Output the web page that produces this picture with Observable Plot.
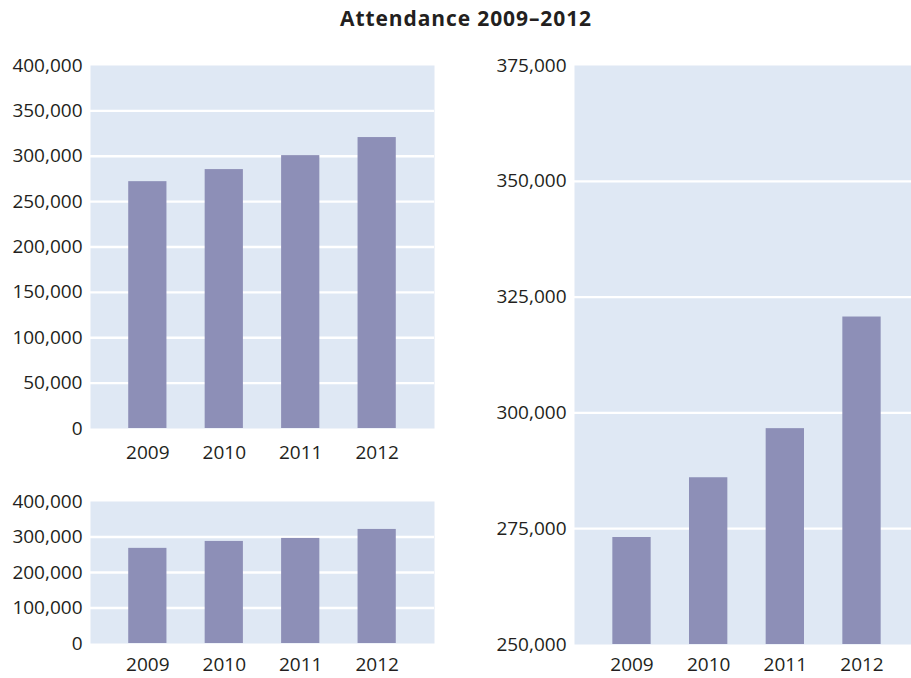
<!DOCTYPE html>
<html>
<head>
<meta charset="utf-8">
<script src="https://cdn.jsdelivr.net/npm/d3@7"></script>
<script src="https://cdn.jsdelivr.net/npm/@observablehq/plot@0.6"></script>
<style>
  html, body { margin: 0; padding: 0; background: #fff; overflow: hidden; }
  #wrap { position: relative; width: 911px; height: 678px; overflow: hidden; font-family: "Open Sans", sans-serif; color: #231f20; }
  #title { position: absolute; left: 466px; top: 0px; transform: translateX(-50%); white-space: nowrap;
           font-weight: 700; font-size: 21px; letter-spacing: 0.9px; line-height: 36px; }
  .panel { position: absolute; }
  .panel svg { max-width: none !important; }
</style>
</head>
<body>
<div id="wrap">
  <div id="title">Attendance 2009–2012</div>
  <div class="panel" id="tl" style="left:0px; top:45px; width:450px;"></div>
  <div class="panel" id="bl" style="left:0px; top:480px; width:450px;"></div>
  <div class="panel" id="rt" style="left:460px; top:45px; width:459px;"></div>
</div>
<script>
// Data
const years = ["2009", "2010", "2011", "2012"];
const attendanceTopLeft = [272000, 285300, 300700, 320600];
const attendanceBottomLeft = [268000, 287500, 296000, 321300];
const attendanceRight = [273100, 286000, 296600, 320700];

const ticksTopLeft = [0, 50000, 100000, 150000, 200000, 250000, 300000, 350000, 400000];
const ticksBottomLeft = [0, 100000, 200000, 300000, 400000];
const ticksRight = [250000, 275000, 300000, 325000, 350000, 375000];

const bg = "#dfe8f4";
const barColor = "#8d8fb7";
const fmt = d3.format(",");

function panel({values, ticks, width, height, marginLeft, marginRight, marginTop, marginBottom, tickPadX}) {
  const data = years.map((y, i) => ({year: y, value: values[i]}));
  const lo = ticks[0], hi = ticks[ticks.length - 1];
  const inner = ticks.slice(1, -1);
  return Plot.plot({
    width, height, marginLeft, marginRight, marginTop, marginBottom,
    style: {fontFamily: "Open Sans, sans-serif", fontSize: "19px", color: "#231f20", background: "transparent", maxWidth: "none"},
    x: {type: "band", domain: years, padding: 0.5, round: false, tickSize: 0, tickPadding: tickPadX, label: null},
    y: {domain: [lo, hi], ticks: ticks, tickSize: 0, tickPadding: 8, tickFormat: fmt, label: null},
    marks: [
      Plot.frame({fill: bg, stroke: null}),
      Plot.ruleY(inner, {stroke: "white", strokeWidth: 2.3}),
      Plot.barY(data, {x: "year", y1: () => lo, y2: "value", fill: barColor})
    ]
  });
}

document.getElementById("tl").append(panel({
  values: attendanceTopLeft, ticks: ticksTopLeft,
  width: 450, height: 423, marginLeft: 90, marginRight: 16, marginTop: 20, marginBottom: 40, tickPadX: 17
}));
document.getElementById("bl").append(panel({
  values: attendanceBottomLeft, ticks: ticksBottomLeft,
  width: 450, height: 198, marginLeft: 90, marginRight: 16, marginTop: 21, marginBottom: 35, tickPadX: 14
}));
document.getElementById("rt").append(panel({
  values: attendanceRight, ticks: ticksRight,
  width: 459, height: 633, marginLeft: 114, marginRight: 0, marginTop: 20, marginBottom: 34, tickPadX: 13
}));
</script>
</body>
</html>
